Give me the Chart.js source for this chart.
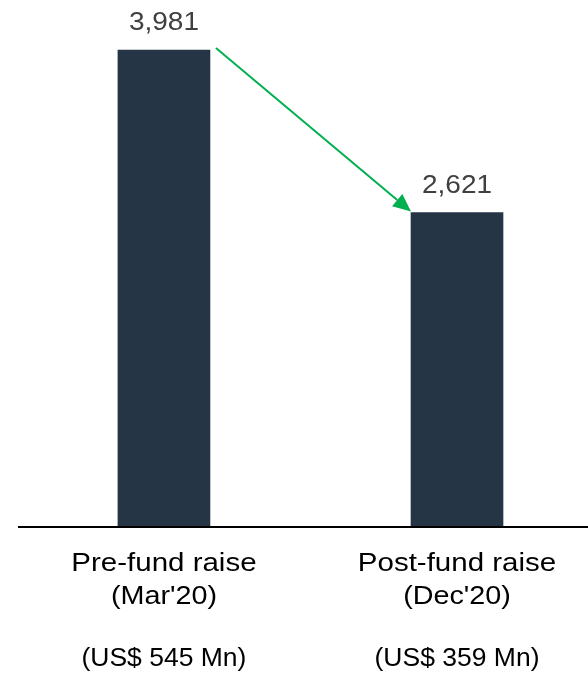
<!DOCTYPE html>
<html>
<head>
<meta charset="utf-8">
<script src="https://cdn.jsdelivr.net/npm/chart.js@4/dist/chart.umd.min.js"></script>
<style>
  html, body { margin: 0; padding: 0; background: #fff; }
  #wrap { width: 588px; height: 680px; position: relative; }
</style>
</head>
<body>
<div id="wrap"><canvas id="fundChart" width="588" height="680"></canvas></div>
<script>
const categories = ["Pre-fund raise", "Post-fund raise"];
const periods = ["(Mar'20)", "(Dec'20)"];
const raiseAmounts = ["(US$ 545 Mn)", "(US$ 359 Mn)"];
const values = [3981, 2621];

const barColor = "#263545";
const arrowColor = "#00B050";

// text in the reference looks a bit wide, so stretch it horizontally
function stretchedText(ctx, text, x, y, size, color, sx) {
    ctx.save();
    ctx.translate(x, y);
    ctx.scale(sx, 1);
    ctx.font = size + "px 'Liberation Sans', Arial, sans-serif";
    ctx.fillStyle = color;
    ctx.textAlign = "center";
    ctx.textBaseline = "alphabetic";
    ctx.fillText(text, 0, 0);
    ctx.restore();
}

const extrasPlugin = {
    id: "extras",
    afterDatasetsDraw(chart) {
        const ctx = chart.ctx;
        const xScale = chart.scales.x;
        const area = chart.chartArea;
        const meta = chart.getDatasetMeta(0);

        // baseline axis
        ctx.save();
        ctx.strokeStyle = "#000";
        ctx.lineWidth = 2;
        ctx.beginPath();
        ctx.moveTo(area.left, area.bottom + 1);
        ctx.lineTo(area.right, area.bottom + 1);
        ctx.stroke();
        ctx.restore();

        // value labels above bars
        meta.data.forEach((bar, i) => {
            stretchedText(ctx, values[i].toLocaleString("en-US"), bar.x, bar.y - 20, 25, "#404040", 1.12);
        });

        // category labels under the axis
        categories.forEach((cat, i) => {
            const cx = xScale.getPixelForValue(i);
            stretchedText(ctx, cat, cx, area.bottom + 45, 25, "#000", 1.18);
            stretchedText(ctx, periods[i], cx, area.bottom + 78, 25, "#000", 1.15);
            stretchedText(ctx, raiseAmounts[i], cx, area.bottom + 140, 25, "#000", 1.06);
        });

        // green arrow from first bar top to second bar top
        const b1 = meta.data[0], b2 = meta.data[1];
        const x1 = b1.x + b1.width / 2 + 6, y1 = b1.y - 2;
        const x2 = b2.x - b2.width / 2, y2 = b2.y - 1;
        const ang = Math.atan2(y2 - y1, x2 - x1);
        const headLen = 18, headW = 8;
        const bx = x2 - headLen * Math.cos(ang), by = y2 - headLen * Math.sin(ang);
        ctx.save();
        ctx.strokeStyle = arrowColor;
        ctx.fillStyle = arrowColor;
        ctx.lineWidth = 2;
        ctx.beginPath();
        ctx.moveTo(x1, y1);
        ctx.lineTo(bx, by);
        ctx.stroke();
        ctx.beginPath();
        ctx.moveTo(x2, y2);
        ctx.lineTo(bx + headW * Math.sin(ang), by - headW * Math.cos(ang));
        ctx.lineTo(bx - headW * Math.sin(ang), by + headW * Math.cos(ang));
        ctx.closePath();
        ctx.fill();
        ctx.restore();
    }
};

new Chart(document.getElementById("fundChart"), {
    type: "bar",
    data: {
        datasets: [{
            data: values.map((v, i) => ({ x: i, y: v })),
            backgroundColor: barColor,
            barThickness: 92,
            borderWidth: 0
        }]
    },
    options: {
        responsive: false,
        animation: false,
        layout: { padding: { left: 18, right: 0, top: 0, bottom: 154 } },
        plugins: { legend: { display: false }, tooltip: { enabled: false } },
        scales: {
            x: { type: "linear", display: false, offset: false, min: -0.498, max: 1.447 },
            y: { display: false, min: 0, max: 4399 }
        }
    },
    plugins: [extrasPlugin]
});
</script>
</body>
</html>
